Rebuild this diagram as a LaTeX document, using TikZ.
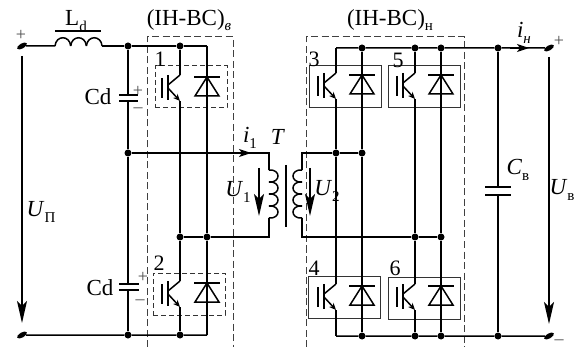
\documentclass[tikz,border=0pt]{standalone}
\usepackage{fontspec}
\setmainfont{Liberation Serif}
\usetikzlibrary{shapes.geometric,arrows.meta}
\newcommand{\lowtext}[1]{\raisebox{-0.25em}{\fontsize{15}{15}\selectfont #1}}

\tikzset{
    igbt/.pic={
        \draw[wire] (-18,-9) -- (-18,11);
        \draw[wire] (-12,-12) -- (-12,13);
        \draw[wire] (0,-12) -- (-12,-2);
        \draw[wire, -{Stealth[length=7pt,width=6pt]}] (-12,1) -- (0,14);
        \coordinate (-c) at (0,-12);
        \coordinate (-e) at (0,14);
    },
    diode/.pic={
        \draw[wire] (-13,-10) -- (13,-10);
        \draw[wire] (0,-10) -- (-12,9) -- (12,9) -- cycle;
    }
}

\begin{document}
\begin{tikzpicture}[
    x=1pt, y=-1pt,
    wire/.style={line width=1.5pt},
    thinwire/.style={line width=1.2pt},
    dot/.style={circle, fill=black, inner sep=0pt, minimum size=7pt},
    terminal/.style={ellipse, fill=black, inner sep=0pt, minimum width=11pt, minimum height=5pt, rotate=30},
    frame/.style={line width=1pt, dash pattern=on 7pt off 3.5pt, black!75},
    swdash/.style={rectangle, draw, dash pattern=on 5pt off 3pt, line width=1pt, black!80, minimum width=72pt, minimum height=42pt},
    swsolid/.style={rectangle, draw, line width=1pt, black!80, minimum width=72pt, minimum height=42pt},
    txt/.style={inner sep=0pt, font=\fontsize{23}{23}\selectfont},
    num/.style={inner sep=0pt, font=\fontsize{22}{22}\selectfont},
    sign/.style={inner sep=0pt, font=\fontsize{18}{18}\selectfont, black!70},
    bigarrow/.style={wire, -{Stealth[length=22pt,width=10pt,inset=5pt]}},
    midarrow/.style={wire, -{Stealth[length=12pt,width=8pt,inset=3pt]}}
]
\useasboundingbox (0,0) rectangle (575,347);

% Dashed frames of the two converters
\coordinate (fa1) at (147,347);
\coordinate (fa2) at (147,37);
\coordinate (fa3) at (233,37);
\coordinate (fa4) at (233,347);
\coordinate (fb1) at (306,347);
\coordinate (fb2) at (306,37);
\coordinate (fb3) at (464,37);
\coordinate (fb4) at (464,347);
\draw[frame] (fa1) -- (fa2) -- (fa3) -- (fa4);
\draw[frame] (fb1) -- (fb2) -- (fb3) -- (fb4);

% Switch boxes
\node[swdash] (box1) at (191,87) {};
\node[swdash] (box2) at (189,294) {};
\node[swsolid] (box3) at (345,87) {};
\node[swsolid] (box5) at (424,87) {};
\node[swsolid] (box4) at (344,297) {};
\node[swsolid] (box6) at (424,298) {};

% Transistors and diodes
\pic (q1) at (180,87) {igbt};
\pic (d1) at (207,87) {diode};
\pic (q2) at (180,293) {igbt};
\pic (d2) at (207,293) {diode};
\pic (q3) at (336,85) {igbt};
\pic (d3) at (362,85) {diode};
\pic (q5) at (415,85) {igbt};
\pic (d5) at (441,85) {diode};
\pic (q4) at (336,296) {igbt};
\pic (d4) at (362,296) {diode};
\pic (q6) at (415,296) {igbt};
\pic (d6) at (441,296) {diode};

% Terminals
\node[terminal] (tl) at (22,46) {};
\node[terminal] (bl) at (22,335) {};
\node[terminal] (tr) at (549,48) {};
\node[terminal] (br) at (549,336) {};

% Junctions
\node[dot] (n1) at (128,46) {};
\node[dot] (n2) at (180,46) {};
\coordinate (n3) at (207,46);
\node[dot] (n4) at (128,153) {};
\node[dot] (n5) at (180,237) {};
\node[dot] (n6) at (207,237) {};
\node[dot] (n7) at (128,335) {};
\node[dot] (n8) at (180,335) {};
\coordinate (n9) at (207,335);
\coordinate (m0) at (336,48);
\node[dot] (m1) at (362,48) {};
\node[dot] (m2) at (415,48) {};
\node[dot] (m3) at (441,48) {};
\node[dot] (m4) at (498,48) {};
\node[dot] (m5) at (336,153) {};
\node[dot] (m6) at (362,153) {};
\node[dot] (m7) at (415,237) {};
\node[dot] (m8) at (441,237) {};
\coordinate (m9) at (336,336);
\node[dot] (m10) at (362,336) {};
\node[dot] (m11) at (415,336) {};
\node[dot] (m12) at (441,336) {};
\node[dot] (m13) at (498,336) {};

% Inductor
\coordinate (la) at (55,46);
\coordinate (lb) at (102,46);
\draw[wire] (tl) -- (la);
\foreach \x in {55,70.7,86.4}
    \draw[wire] (\x,46) .. controls (\x+1,35) and (\x+14.7,35) .. (\x+15.7,46);
\draw[wire] (lb) -- (n1) -- (n2) -- (n3);
\draw[thinwire] (55,31) -- (101,31);

% Upper and lower capacitors
\coordinate (ca) at (128,95);
\coordinate (cb) at (128,101);
\coordinate (cc) at (128,284);
\coordinate (cd) at (128,290);
\draw[wire] (n1) -- (ca);
\draw[wire] (cb) -- (n4) -- (cc);
\draw[wire] (cd) -- (n7);
\draw[wire] (119,95) -- (138,95);
\draw[wire] (119,101) -- (138,101);
\draw[wire] (119,284) -- (139,284);
\draw[wire] (119,290) -- (139,290);

% Bottom rail, left half
\draw[wire] (bl) -- (n7) -- (n8) -- (n9);

% Left bridge leg
\draw[wire] (n2) -- (q1-c);
\draw[wire] (q1-e) -- (n5) -- (q2-c);
\draw[wire] (q2-e) -- (n8);
\draw[wire] (n3) -- (n6) -- (n9);

% Transformer
\coordinate (pa) at (269,153);
\coordinate (pb) at (269,170);
\coordinate (pc) at (269,218);
\coordinate (pd) at (269,237);
\coordinate (sa) at (302,153);
\coordinate (sb) at (302,170);
\coordinate (sc) at (302,218);
\coordinate (sd) at (302,237);
\draw[wire] (n4) -- (pa) -- (pb);
\draw[wire] (pc) -- (pd) -- (n6) -- (n5);
\draw[wire] (m6) -- (m5) -- (sa) -- (sb);
\draw[wire] (sc) -- (sd) -- (m7) -- (m8);
\foreach \y in {170,182,194,206} {
    \draw[wire] (269,\y) .. controls (281,\y-1) and (281,\y+13) .. (269,\y+12);
    \draw[wire] (302,\y) .. controls (290,\y-1) and (290,\y+13) .. (302,\y+12);
}
\draw[wire] (286,165) -- (286,227);

% Right bridge legs
\draw[wire] (m0) -- (m1) -- (m2) -- (m3) -- (m4) -- (tr);
\draw[wire] (m0) -- (q3-c);
\draw[wire] (q3-e) -- (m5) -- (q4-c);
\draw[wire] (q4-e) -- (m9);
\draw[wire] (m1) -- (m6) -- (m10);
\draw[wire] (m2) -- (q5-c);
\draw[wire] (q5-e) -- (m7) -- (q6-c);
\draw[wire] (q6-e) -- (m11);
\draw[wire] (m3) -- (m8) -- (m12);
\draw[wire] (m9) -- (m10) -- (m11) -- (m12) -- (m13) -- (br);

% Output capacitor
\coordinate (ce) at (498,187);
\coordinate (cf) at (498,195);
\draw[wire] (m4) -- (ce);
\draw[wire] (cf) -- (m13);
\draw[wire] (485,187) -- (511,187);
\draw[wire] (485,195) -- (511,195);

% Current and voltage arrows
\coordinate (ua) at (22,56);
\coordinate (ub) at (22,323);
\coordinate (uc) at (549,57);
\coordinate (ud) at (549,324);
\coordinate (ue) at (259,168);
\coordinate (uf) at (259,216);
\coordinate (ug) at (310,168);
\coordinate (uh) at (310,216);
\coordinate (ia) at (225,153);
\coordinate (ib) at (251,153);
\coordinate (ic) at (510,48);
\coordinate (id) at (529,48);
\draw[bigarrow] (ua) -- (ub);
\draw[bigarrow] (uc) -- (ud);
\draw[bigarrow] (ue) -- (uf);
\draw[bigarrow] (ug) -- (uh);
\draw[midarrow] (ia) -- (ib);
\draw[midarrow] (ic) -- (id);

% Labels
\node[txt] (ld) at (76,21) {L\lowtext{d}};
\node[txt] (hv1) at (189,20) {(IH-BC)\lowtext{\itshape в}};
\node[txt] (hv2) at (390,20) {(IH-BC)\lowtext{н}};
\node[txt] (cd1) at (98,97) {Cd};
\node[txt] (cd2) at (100,288) {Cd};
\node[txt] (up) at (41,212) {\textit{U}\lowtext{П}};
\node[txt] (u1) at (238,192) {\textit{U}\lowtext{1}};
\node[txt] (u2) at (327,191) {\textit{U}\lowtext{2}};
\node[txt] (cv) at (518,170) {\textit{C}\lowtext{в}};
\node[txt] (uv) at (562,190) {\textit{U}\lowtext{в}};
\node[txt] (i1) at (250,138) {\textit{i}\lowtext{1}};
\node[txt] (tt) at (278,137) {\textit{T}};
\node[txt] (in) at (524,33) {\textit{i}\lowtext{\itshape н}};
\node[num] (l1) at (160,59) {1};
\node[num] (l2) at (159,263) {2};
\node[num] (l3) at (314,59) {3};
\node[num] (l5) at (398,60) {5};
\node[num] (l4) at (314,268) {4};
\node[num] (l6) at (395,268) {6};
\node[sign] (p1) at (21,35) {+};
\node[sign] (p2) at (138,91) {+};
\node[sign] (m1a) at (138,110) {–};
\node[sign] (p3) at (143,277) {+};
\node[sign] (m2a) at (140,302) {–};
\node[sign] (p4) at (559,41) {+};
\node[sign] (m3a) at (559,342) {–};

\end{tikzpicture}
\end{document}
